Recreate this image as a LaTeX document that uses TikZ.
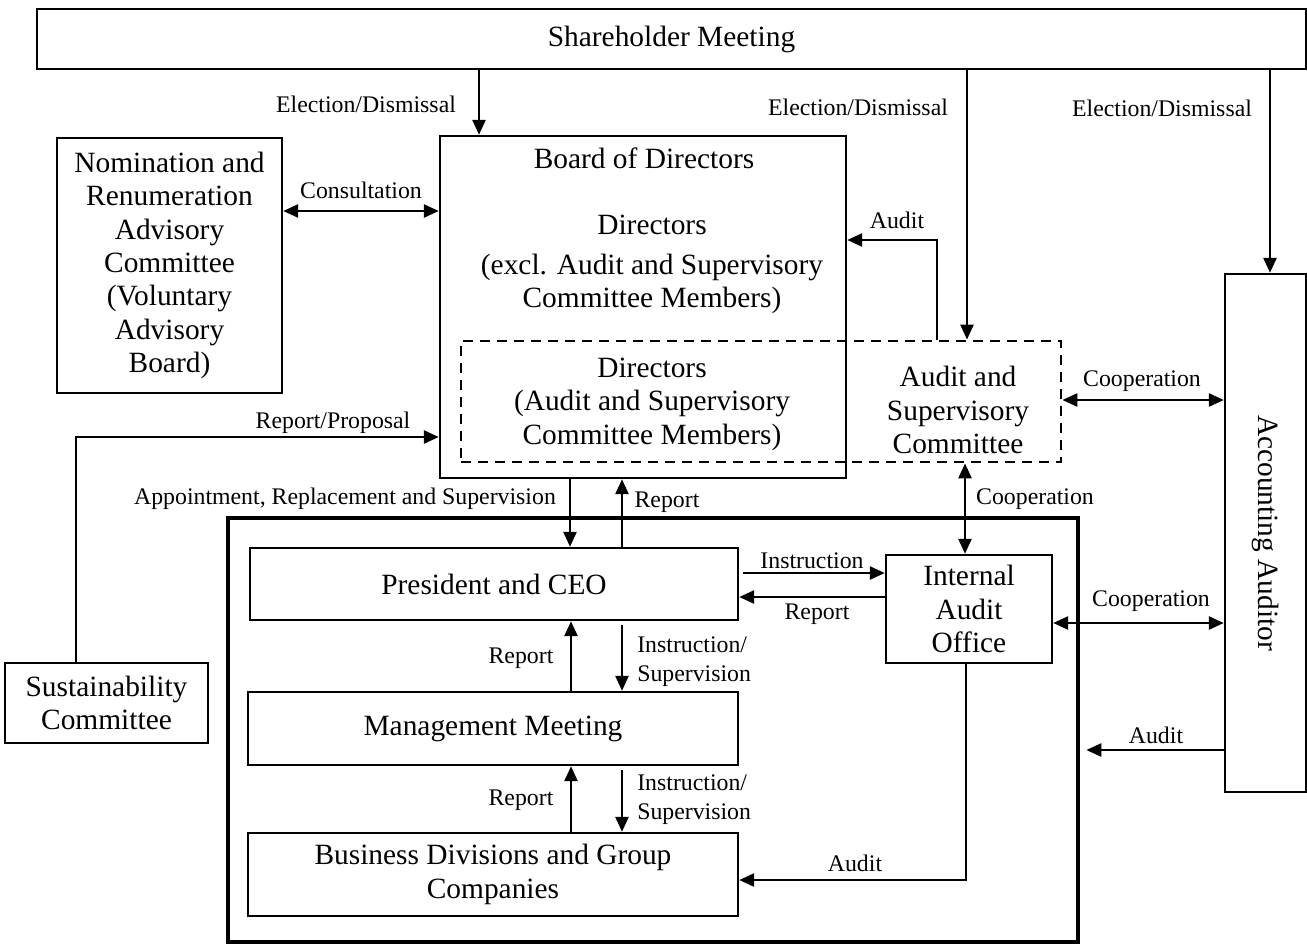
\documentclass[tikz,border=0pt]{standalone}
\usepackage{fontspec}
\setmainfont{Liberation Serif}
\usetikzlibrary{arrows.meta}
\newcommand{\mainsize}{\fontsize{14.7}{16.7}\selectfont}
\newcommand{\lblsize}{\fontsize{11.9}{14.5}\selectfont}
\tikzset{every path/.style={line width=1.3pt},
  box/.style={draw, line width=1.2pt, inner sep=0pt, align=center, font=\mainsize},
  txt/.style={inner sep=0pt, align=center, font=\mainsize},
  lbl/.style={inner sep=0pt, align=center, font=\lblsize},
  arr/.style={-{Triangle[length=7.5pt,width=6.5pt]}},
  darr/.style={{Triangle[length=7.5pt,width=6.5pt]}-{Triangle[length=7.5pt,width=6.5pt]}}}

\begin{document}
\begin{tikzpicture}[x=0.5pt,y=-0.5pt]
   \useasboundingbox (0,0) rectangle (1307,943);
   \node[box, minimum width=634.5pt, minimum height=30pt] (sh) at (671.5,39) {Shareholder Meeting};
   \node[box, minimum width=112.5pt, minimum height=127.5pt] (nom) at (169.5,265.5)
     {Nomination and\\Renumeration\\Advisory\\Committee\\ (Voluntary\\Advisory\\Board)};
   \node[box, minimum width=203pt, minimum height=171pt] (board) at (643,307) {};
   \node[box, dashed, dash pattern=on 5pt off 3.5pt, line width=1.4pt,
         minimum width=300pt, minimum height=60.5pt] (acm) at (761,401.5) {};
   \node[box, minimum width=40.5pt, minimum height=259pt] (audr) at (1265.5,533) {};
   \node[box, minimum width=101.5pt, minimum height=40pt] (sus) at (106.5,703) {Sustainability\\Committee};
   \node[box, line width=2.3pt, minimum width=425pt, minimum height=212pt] (exec) at (653,730) {};
   \node[box, minimum width=244pt, minimum height=36pt] (ceo) at (494,584) {President and CEO};
   \node[box, minimum width=245pt, minimum height=36.5pt] (mgmt) at (493,728.5) {Management Meeting};
   \node[box, minimum width=245pt, minimum height=41.5pt] (biz) at (493,874.5) {Business Divisions and Group\\Companies};
   \node[box, minimum width=83pt, minimum height=54pt] (iao) at (969,609) {Internal\\Audit\\Office};

   \node[txt] (bodt) at (644,158) {Board of Directors};
   \node[txt] (dir) at (652,225) {Directors};
   \node[txt] (dirx) at (652,284) {(excl. Audit and Supervisory\\Committee Members)};
   \node[txt] (dira) at (652,404) {Directors\\(Audit and Supervisory\\Committee Members)};
   \node[txt] (acmt) at (958,410) {Audit and\\Supervisory\\Committee};
   \node[txt, rotate=-90] (audrt) at (1266,533) {Accounting Auditor};

   \draw[arr] (sh.south -| 479,0) -- (board.north -| 479,0);
   \draw[arr] (sh.south -| 967,0) -- (acm.north -| 967,0);
   \draw[arr] (sh.south -| 1270,0) -- (audr.north -| 1270,0);
   \draw[darr] (nom.east |- 0,211) -- (board.west |- 0,211);
   \draw[arr] (acm.north -| 937,0) |- (board.east |- 0,240);
   \draw[darr] (acm.east |- 0,400) -- (audr.west |- 0,400);
   \draw[arr] (sus.north -| 76,0) |- (board.west |- 0,437);
   \draw[arr] (board.south -| 570,0) -- (ceo.north -| 570,0);
   \draw[arr] (ceo.north -| 622,0) -- (board.south -| 622,0);
   \draw[darr] (acm.south -| 965,0) -- (iao.north -| 965,0);
   \draw[arr, shorten <=2pt] (ceo.east |- 0,573) -- (iao.west |- 0,573);
   \draw[arr] (iao.west |- 0,597) -- (ceo.east |- 0,597);
   \draw[darr] (iao.east |- 0,623) -- (audr.west |- 0,623);
   \draw[arr] (mgmt.north -| 571,0) -- (ceo.south -| 571,0);
   \draw[arr, shorten <=2pt] (ceo.south -| 622,0) -- (mgmt.north -| 622,0);
   \draw[arr] (biz.north -| 571,0) -- (mgmt.south -| 571,0);
   \draw[arr, shorten <=2pt] (mgmt.south -| 622,0) -- (biz.north -| 622,0);
   \draw[arr] (iao.south -| 966,0) |- (biz.east |- 0,880);
   \draw[arr, shorten >=3pt] (audr.west |- 0,750) -- (exec.east |- 0,750);

   \node[lbl] (ed1) at (366,104) {Election/Dismissal};
   \node[lbl] (ed2) at (858,107) {Election/Dismissal};
   \node[lbl] (ed3) at (1162,108) {Election/Dismissal};
   \node[lbl] (cons) at (361,190) {Consultation};
   \node[lbl] (aud1) at (897,220) {Audit};
   \node[lbl] (coop1) at (1142,381) {Cooperation};
   \node[lbl] (rp) at (333,423) {Report/Proposal};
   \node[lbl] (appt) at (345,499) {Appointment, Replacement and Supervision};
   \node[lbl] (rep1) at (667,502) {Report};
   \node[lbl] (coop2) at (1035,499) {Cooperation};
   \node[lbl] (instr) at (812,561) {Instruction};
   \node[lbl] (rep2) at (817,614) {Report};
   \node[lbl] (coop3) at (1151,601) {Cooperation};
   \node[lbl] (rep3) at (521,658) {Report};
   \node[lbl, anchor=west, align=left] (is1) at (636,662) {Instruction/\\Supervision};
   \node[lbl] (rep4) at (521,800) {Report};
   \node[lbl, anchor=west, align=left] (is2) at (636,800) {Instruction/\\Supervision};
   \node[lbl] (aud2) at (855,863) {Audit};
   \node[lbl] (aud3) at (1156,735) {Audit};
\end{tikzpicture}
\end{document}
